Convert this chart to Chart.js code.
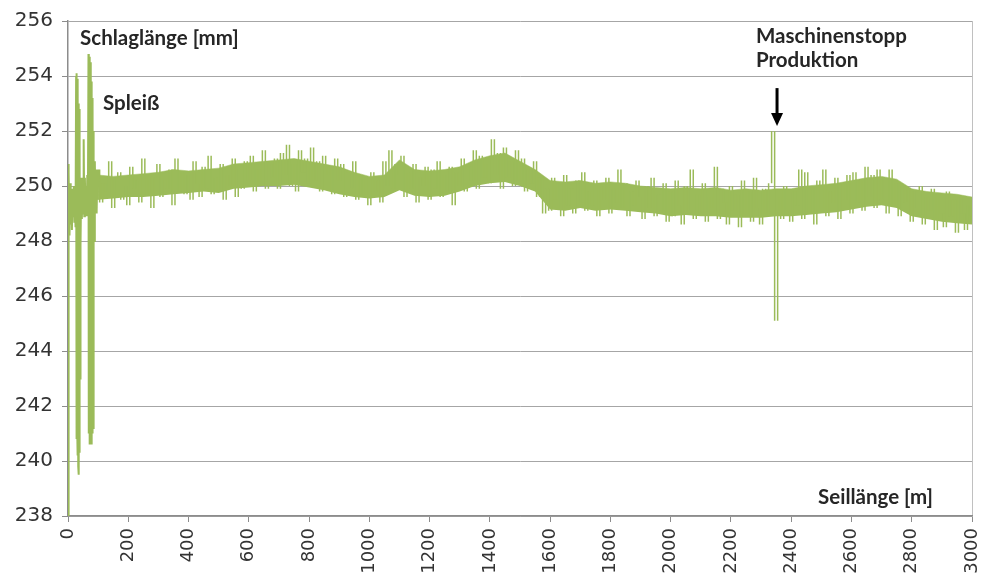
<!DOCTYPE html>
<html>
<head>
<meta charset="utf-8">
<script src="https://cdn.jsdelivr.net/npm/chart.js@4/dist/chart.umd.min.js"></script>
<style>
  html, body { margin: 0; padding: 0; background: #fff; }
  #wrap { width: 984px; height: 578px; }
</style>
</head>
<body>
<div id="wrap"><canvas id="myChart"></canvas></div>
<script>
// Spleiß-Bereich 0..100 m (Position in m / Schlaglänge in mm)
const spleissPos = [0, 1, 2, 3, 5, 7, 9, 11, 13, 15, 17, 19, 21, 23, 25,
  27, 28, 29, 30, 31, 32, 33, 34, 35, 36, 37, 38, 39, 40, 41, 42,
  44, 46, 48, 50, 52, 54, 56, 58, 60, 62, 64, 66,
  68, 69, 70, 71, 72, 73, 74, 75, 76, 77, 78, 79, 80, 81, 82, 83, 84, 85, 86, 87,
  89, 91, 93, 95, 97, 99];
const spleissWerte = [238.0, 250.8, 247.6, 250.5, 248.2, 250.1, 248.6, 249.9, 248.4, 249.8, 248.9, 250.0, 248.7, 249.6, 248.5,
  254.0, 240.8, 254.1, 241.5, 253.6, 240.2, 253.9, 239.8, 253.0, 239.5, 252.8, 240.3, 251.5, 243.0, 250.2, 247.8,
  250.3, 248.8, 250.1, 249.0, 251.7, 248.9, 250.3, 249.2, 250.0, 248.9, 250.4, 249.1,
  254.8, 241.0, 254.7, 240.6, 254.6, 240.8, 254.5, 240.7, 254.3, 240.9, 253.8, 240.6, 253.2, 241.0, 252.9, 241.2, 252.0, 242.5, 251.0, 248.0,
  250.9, 249.3, 250.6, 249.0, 250.4, 249.5];

// Messwerte ab 100 m, alle 10 m
const messStart = 100;
const messSchritt = 10;
const schlaglaenge = [
  250.6, 249.4, 250.1, 249.8, 250.9, 249.2, 250.3, 250.5, 249.5, 250.0,   // 100
  249.3, 250.7, 249.9, 250.2, 249.4, 251.0, 249.7, 250.4, 249.2, 250.3,   // 200
  250.8, 249.6, 250.2, 249.9, 250.6, 249.3, 251.0, 249.8, 250.5, 249.7,   // 300
  250.4, 249.5, 250.9, 250.1, 249.6, 250.7, 249.9, 251.1, 249.7, 250.3,   // 400
  249.8, 250.8, 249.5, 250.4, 250.0, 251.0, 249.6, 250.6, 249.9, 250.9,   // 500
  250.2, 251.1, 249.8, 250.6, 250.0, 251.3, 249.9, 250.8, 250.3, 251.0,   // 600
  249.9, 251.2, 250.4, 251.5, 250.0, 250.8, 249.8, 251.3, 250.5, 251.0,   // 700
  250.1, 251.4, 250.2, 250.9, 249.8, 251.1, 250.4, 250.7, 249.7, 251.0,   // 800
  250.2, 250.8, 249.6, 250.5, 249.9, 250.9, 249.5, 250.4, 249.7, 250.3,   // 900
  249.3, 250.5, 249.8, 250.2, 249.4, 250.9, 250.0, 251.3, 249.9, 250.8,   // 1000
  250.4, 251.1, 249.6, 250.5, 249.9, 250.8, 249.4, 250.3, 250.0, 250.7,   // 1100
  249.5, 250.6, 249.9, 250.9, 249.6, 250.4, 249.8, 250.7, 249.3, 250.5,   // 1200
  250.0, 251.0, 249.8, 250.7, 250.2, 251.3, 249.9, 251.1, 250.3, 250.8,   // 1300
  250.1, 251.7, 250.4, 251.2, 249.9, 251.4, 250.3, 250.9, 250.0, 251.3,   // 1400
  250.2, 251.0, 249.8, 250.6, 250.1, 250.9, 249.6, 250.3, 249.0, 249.9,   // 1500
  249.1, 250.3, 249.5, 250.1, 248.9, 250.4, 249.3, 249.9, 249.0, 250.2,   // 1600
  249.4, 250.5, 249.1, 249.8, 249.3, 250.2, 248.9, 250.0, 249.5, 250.3,   // 1700
  249.0, 249.9, 249.4, 250.6, 249.2, 250.1, 248.9, 249.8, 249.3, 250.2,   // 1800
  249.6, 248.8, 250.0, 249.2, 250.3, 248.9, 249.7, 249.1, 250.1, 248.7,   // 1900
  249.8, 248.9, 250.2, 249.3, 248.6, 250.0, 249.1, 250.6, 248.8, 249.7,   // 2000
  249.0, 250.1, 248.7, 249.6, 249.2, 250.7, 248.8, 249.9, 249.4, 248.6,   // 2100
  250.0, 249.1, 249.7, 248.5, 250.2, 249.0, 249.8, 248.7, 250.3, 249.2,   // 2200
  248.6, 249.9, 249.0, 250.1, 252.0, 245.1, 249.6, 248.8, 250.0, 249.1,   // 2300
  248.7, 249.8, 249.3, 250.6, 248.8, 250.5, 249.0, 249.9, 248.6, 250.2,   // 2400
  249.2, 250.6, 248.9, 249.8, 249.4, 250.3, 248.8, 250.1, 249.5, 250.4,   // 2500
  249.0, 250.5, 249.4, 250.2, 249.1, 250.7, 249.6, 250.4, 249.2, 250.6,   // 2600
  249.5, 250.3, 249.0, 250.6, 249.3, 250.1, 248.9, 250.0, 249.4, 249.9,   // 2700
  248.7, 249.8, 249.2, 250.0, 248.6, 249.6, 249.1, 249.9, 248.4, 249.7,   // 2800
  249.0, 248.5, 249.8, 248.9, 249.5, 248.3, 249.6, 249.0, 248.4, 249.3,   // 2900
  248.9                                                                   // 3000
];

// dichter Kern des Messbandes, alle 50 m ab 100 m
const kernSchritt = 50;
const kernOben = [250.4, 250.35, 250.4, 250.45, 250.5, 250.6, 250.55, 250.6, 250.65, 250.8,
  250.85, 250.9, 250.95, 251.0, 250.9, 250.8, 250.7, 250.5, 250.35, 250.4,
  250.95, 250.6, 250.55, 250.6, 250.7, 250.95, 251.1, 251.2, 250.9, 250.6,
  250.2, 250.15, 250.2, 250.1, 250.15, 250.1, 250.0, 249.95, 249.9, 249.95,
  249.9, 249.95, 249.85, 249.9, 249.85, 249.9, 249.9, 250.0, 250.05, 250.1,
  250.2, 250.3, 250.35, 250.25, 249.9, 249.8, 249.75, 249.7, 249.6];
const kernUnten = [249.5, 249.55, 249.6, 249.6, 249.65, 249.7, 249.75, 249.8, 249.75, 249.9,
  249.95, 250.0, 250.0, 250.05, 249.95, 249.85, 249.7, 249.6, 249.55, 249.6,
  249.85, 249.65, 249.6, 249.65, 249.8, 250.0, 250.1, 250.15, 250.0, 249.8,
  249.15, 249.1, 249.2, 249.1, 249.15, 249.1, 249.05, 249.0, 248.9, 248.95,
  248.9, 248.9, 248.85, 248.85, 248.85, 248.9, 248.9, 248.95, 249.0, 249.05,
  249.15, 249.25, 249.3, 249.2, 248.9, 248.8, 248.7, 248.65, 248.6];

const yTicks = [238, 240, 242, 244, 246, 248, 250, 252, 254, 256];
const xTicks = [0, 200, 400, 600, 800, 1000, 1200, 1400, 1600, 1800, 2000, 2200, 2400, 2600, 2800, 3000];

// Spleiß als Linie (bis zum ersten Messwert)
const spleissPunkte = spleissPos.map((p, i) => ({ x: p, y: spleissWerte[i] }))
  .concat([{ x: messStart, y: schlaglaenge[0] }]);
// Verlauf zwischen zwei Messwerten als senkrechter Strich
const striche = schlaglaenge.slice(0, -1).map((v, i) => ({
  x: messStart + (i + 0.5) * messSchritt,
  y: [v, schlaglaenge[i + 1]]
}));
const kernO = kernOben.map((v, i) => ({ x: messStart + i * kernSchritt, y: v }));
const kernU = kernUnten.map((v, i) => ({ x: messStart + i * kernSchritt, y: v }));

// Beschriftungen im Diagramm (Datenkoordinaten)
const beschriftungen = [
  { text: 'Schlaglänge [mm]', x: 40, y: 255.38 },
  { text: 'Spleiß', x: 116, y: 253.02 },
  { text: 'Maschinenstopp', x: 2283, y: 255.45 },
  { text: 'Produktion', x: 2283, y: 254.55 },
  { text: 'Seillänge [m]', x: 2489, y: 238.69 }
];
const pfeil = { x: 2353, von: 253.56, bis: 252.18 };

const annotationPlugin = {
  id: 'annotations',
  afterDatasetsDraw(chart) {
    const { ctx, scales: { x, y } } = chart;
    ctx.save();
    ctx.fillStyle = '#262626';
    ctx.font = 'bold 20.5px Lato, "Open Sans", sans-serif';
    ctx.textBaseline = 'middle';
    ctx.textAlign = 'left';
    beschriftungen.forEach(b => {
      ctx.fillText(b.text, x.getPixelForValue(b.x), y.getPixelForValue(b.y));
    });

    // Pfeil
    const px = x.getPixelForValue(pfeil.x);
    const top = y.getPixelForValue(pfeil.von);
    const tip = y.getPixelForValue(pfeil.bis);
    ctx.strokeStyle = '#000';
    ctx.fillStyle = '#000';
    ctx.lineWidth = 3;
    ctx.beginPath();
    ctx.moveTo(px, top);
    ctx.lineTo(px, tip - 10);
    ctx.stroke();
    ctx.beginPath();
    ctx.moveTo(px - 6, tip - 13);
    ctx.lineTo(px + 6, tip - 13);
    ctx.lineTo(px, tip);
    ctx.closePath();
    ctx.fill();
    ctx.restore();
  }
};

const canvas = document.getElementById('myChart');

new Chart(canvas, {
  type: 'line',
  data: {
    datasets: [{
      type: 'line',
      label: 'Spleiß',
      data: spleissPunkte,
      borderColor: '#9bbb59',
      borderWidth: 2,
      pointRadius: 0,
      tension: 0,
      fill: false,
      order: 1
    }, {
      type: 'bar',
      label: 'Schlaglänge',
      data: striche,
      backgroundColor: '#9bbb59',
      borderWidth: 0,
      inflateAmount: 0,
      barThickness: 1.5,
      order: 1
    }, {
      label: 'Kern unten',
      data: kernU,
      borderColor: 'rgba(0,0,0,0)',
      borderWidth: 0,
      pointRadius: 0,
      fill: false,
      order: 3
    }, {
      label: 'Kern oben',
      data: kernO,
      borderColor: '#9bbb59',
      borderWidth: 0.5,
      backgroundColor: '#9bbb59',
      pointRadius: 0,
      fill: '-1',
      order: 2
    }]
  },
  options: {
    responsive: true,
    maintainAspectRatio: false,
    animation: false,
    layout: { padding: { top: 21, right: 12, left: 0, bottom: 0 } },
    plugins: {
      legend: { display: false },
      tooltip: { enabled: false }
    },
    scales: {
      x: {
        type: 'linear',
        min: 0,
        max: 3000,
        offset: false,
        afterBuildTicks: s => { s.ticks = xTicks.map(v => ({ value: v })); },
        afterFit: s => { s.height = 62; s.paddingLeft = 0; s.paddingRight = 0; },
        ticks: {
          color: '#333',
          font: { family: '"DejaVu Sans", sans-serif', size: 18 },
          maxRotation: 90,
          minRotation: 90,
          padding: 6,
          autoSkip: false,
          callback: v => String(v)
        },
        grid: {
          offset: false,
          color: ctx => (ctx.tick && ctx.tick.value === 3000) ? '#c0c0c0' : 'rgba(0,0,0,0)',
          tickColor: '#8c8c8c',
          tickLength: 6,
          drawTicks: true
        },
        border: { color: '#8c8c8c', width: 1.5 }
      },
      y: {
        min: 238,
        max: 256,
        afterBuildTicks: s => { s.ticks = yTicks.map(v => ({ value: v })); },
        afterFit: s => { s.width = 68; },
        ticks: {
          color: '#333',
          font: { family: '"DejaVu Sans", sans-serif', size: 20 },
          padding: 9
        },
        grid: {
          color: '#a6a6a6',
          tickColor: '#8c8c8c',
          tickLength: 6
        },
        border: { color: '#8c8c8c', width: 1.5 }
      }
    }
  },
  plugins: [annotationPlugin]
});
</script>
</body>
</html>
